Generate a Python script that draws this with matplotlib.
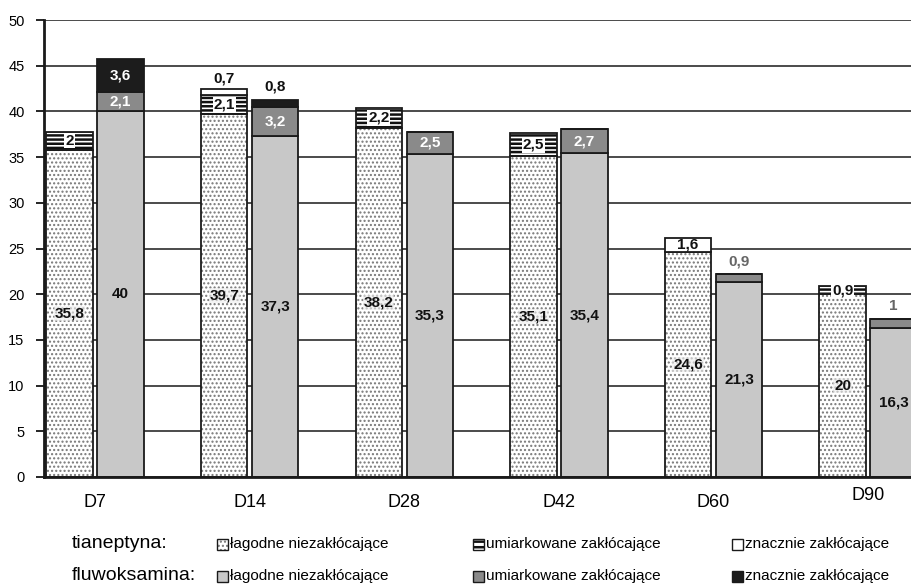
import matplotlib.pyplot as plt
from matplotlib.patches import Rectangle
from matplotlib.transforms import ScaledTranslation
import numpy as np

groups = ["D7", "D14", "D28", "D42", "D60", "D90"]

tian_low = [35.8, 39.7, 38.2, 35.1, 24.6, 20]
tian_mod = [2, 2.1, 2.2, 2.5, 0, 0.9]
tian_sev = [0, 0.7, 0, 0, 1.6, 0]

fluw_low = [40, 37.3, 35.3, 35.4, 21.3, 16.3]
fluw_mod = [2.1, 3.2, 2.5, 2.7, 0.9, 1]
fluw_sev = [3.6, 0.8, 0, 0, 0, 0]

legend_labels = ["łagodne niezakłócające", "umiarkowane zakłócające", "znacznie zakłócające"]

NARROW = ["Liberation Sans Narrow", "Liberation Sans", "DejaVu Sans"]
plt.rcParams["font.family"] = ["Liberation Sans", "DejaVu Sans"]

C_LIGHT = "#c8c8c8"
C_MID = "#8a8a8a"
C_DARK = "#1c1c1c"


def fmt(v):
    return f"{v:g}".replace(".", ",")


def hatched(ax, x, h, bottom, w, hatch, hcolor, lw):
    with plt.rc_context({"hatch.linewidth": lw}):
        ax.bar(x, h, w, bottom=bottom, color="white", edgecolor=hcolor,
               hatch=hatch, linewidth=0, zorder=3)
    ax.bar(x, h, w, bottom=bottom, color="none", edgecolor="#1a1a1a",
           linewidth=1.3, zorder=4)


fig = plt.figure(figsize=(9.11, 5.85), dpi=100)
ax = fig.add_axes([44 / 911, 108 / 585, 1 - 44 / 911, 457 / 585])

x = np.arange(len(groups))
w = 0.30
xt = x - 0.165
xf = x + 0.165

t_low = np.array(tian_low)
t_mod = np.array(tian_mod)
t_sev = np.array(tian_sev)
f_low = np.array(fluw_low)
f_mod = np.array(fluw_mod)
f_sev = np.array(fluw_sev)

# tianeptyna: stippled / striped / white
hatched(ax, xt, t_low, 0, w, "....", "#777777", 1.0)
for i in range(len(groups)):
    if t_mod[i] > 0:
        hatched(ax, xt[i], t_mod[i], t_low[i], w, "----", "#111111", 1.8)
    if t_sev[i] > 0:
        ax.bar(xt[i], t_sev[i], w, bottom=t_low[i] + t_mod[i], color="white",
               edgecolor="#1a1a1a", linewidth=1.3, zorder=4)

# fluwoksamina: light / mid / dark grey
ax.bar(xf, f_low, w, color=C_LIGHT, edgecolor="#1a1a1a", linewidth=1.3, zorder=4)
ax.bar(xf, f_mod, w, bottom=f_low, color=C_MID, edgecolor="#1a1a1a", linewidth=1.3, zorder=4)
ax.bar(xf, f_sev, w, bottom=f_low + f_mod, color=C_DARK, edgecolor="#1a1a1a", linewidth=1.3, zorder=4)

lab = dict(fontfamily=NARROW, fontsize=11, fontweight="bold", ha="center", zorder=6)
box = dict(facecolor="white", edgecolor="none", pad=0.5)

for i in range(len(groups)):
    # tianeptyna labels
    ax.text(xt[i], t_low[i] / 2, fmt(t_low[i]), va="center", color="#111111",
            bbox=dict(facecolor="#eeeeee", edgecolor="none", pad=0.5, alpha=0.6), **lab)
    if t_mod[i] > 0:
        ax.text(xt[i], t_low[i] + t_mod[i] / 2, fmt(t_mod[i]), va="center",
                color="#111111", bbox=box, **lab)
    if t_sev[i] > 0:
        top = t_low[i] + t_mod[i]
        if t_sev[i] >= 1.5:
            ax.text(xt[i], top + t_sev[i] / 2, fmt(t_sev[i]), va="center", color="#111111", **lab)
        else:
            ax.annotate(fmt(t_sev[i]), (xt[i], top + t_sev[i]), xytext=(0, 2),
                        textcoords="offset points", va="bottom", color="#111111", **lab)

    # fluwoksamina labels
    ax.text(xf[i], f_low[i] / 2, fmt(f_low[i]), va="center", color="#111111", **lab)
    top = f_low[i] + f_mod[i] + f_sev[i]
    if f_mod[i] >= 1.5:
        ax.text(xf[i], f_low[i] + f_mod[i] / 2, fmt(f_mod[i]), va="center", color="white", **lab)
    elif f_mod[i] > 0 and f_sev[i] == 0:
        ax.annotate(fmt(f_mod[i]), (xf[i], top), xytext=(0, 4),
                    textcoords="offset points", va="bottom", color="#666666", **lab)
    if f_sev[i] >= 1.5:
        ax.text(xf[i], f_low[i] + f_mod[i] + f_sev[i] / 2, fmt(f_sev[i]), va="center",
                color="white", **lab)
    elif f_sev[i] > 0:
        ax.annotate(fmt(f_sev[i]), (xf[i], top), xytext=(0, 4),
                    textcoords="offset points", va="bottom", color="#111111", **lab)

ax.set_ylim(0, 50)
ax.set_xlim(-0.33, 5.277)
ax.set_yticks(range(0, 51, 5))
ax.yaxis.grid(True, color="#1a1a1a", linewidth=1.1)
ax.set_axisbelow(True)
ax.set_xticks(x)
ax.set_xticklabels(groups, fontsize=13)
ax.tick_params(axis="x", length=0, pad=12)
ax.tick_params(axis="y", length=6, width=1.2, labelsize=10.5, pad=8)

# the last group label sits a little higher
last = ax.get_xticklabels()[-1]
last.set_transform(last.get_transform() + ScaledTranslation(0, 7 / 100, fig.dpi_scale_trans))

for s in ["top", "right"]:
    ax.spines[s].set_visible(False)
for s in ["left", "bottom"]:
    ax.spines[s].set_linewidth(2)
    ax.spines[s].set_color("#1a1a1a")
    ax.spines[s].set_zorder(5)

# legend drawn by hand in figure pixels
W, H = 911, 585
rows = [544, 576]
fig.text(72 / W, 1 - rows[0] / H, "tianeptyna:", fontsize=14, va="center", ha="left")
fig.text(72 / W, 1 - rows[1] / H, "fluwoksamina:", fontsize=14, va="center", ha="left")

col_x = [217, 473, 732]
sq = 11
tian_style = [
    dict(edgecolor="#777777", hatch="....", lw_h=1.0),
    dict(edgecolor="#111111", hatch="---", lw_h=1.8),
    dict(edgecolor=None, hatch=None, lw_h=1.0),
]
fluw_col = [C_LIGHT, C_MID, C_DARK]

for j, cx in enumerate(col_x):
    # tianeptyna row
    y0 = 1 - (rows[0] + sq / 2) / H
    st = tian_style[j]
    if st["hatch"]:
        with plt.rc_context({"hatch.linewidth": st["lw_h"]}):
            fig.patches.append(Rectangle((cx / W, y0), sq / W, sq / H, transform=fig.transFigure,
                                         facecolor="white", edgecolor=st["edgecolor"],
                                         hatch=st["hatch"], linewidth=0))
    fig.patches.append(Rectangle((cx / W, y0), sq / W, sq / H, transform=fig.transFigure,
                                 facecolor="none", edgecolor="#1a1a1a", linewidth=1.0))
    fig.text((cx + sq + 2) / W, 1 - rows[0] / H, legend_labels[j], fontfamily=NARROW,
             fontsize=11, va="center", ha="left")
    # fluwoksamina row
    y1 = 1 - (rows[1] + sq / 2) / H
    fig.patches.append(Rectangle((cx / W, y1), sq / W, sq / H, transform=fig.transFigure,
                                 facecolor=fluw_col[j], edgecolor="#1a1a1a", linewidth=1.0))
    fig.text((cx + sq + 2) / W, 1 - rows[1] / H, legend_labels[j], fontfamily=NARROW,
             fontsize=11, va="center", ha="left")

fig.savefig("out.png", dpi=100)
